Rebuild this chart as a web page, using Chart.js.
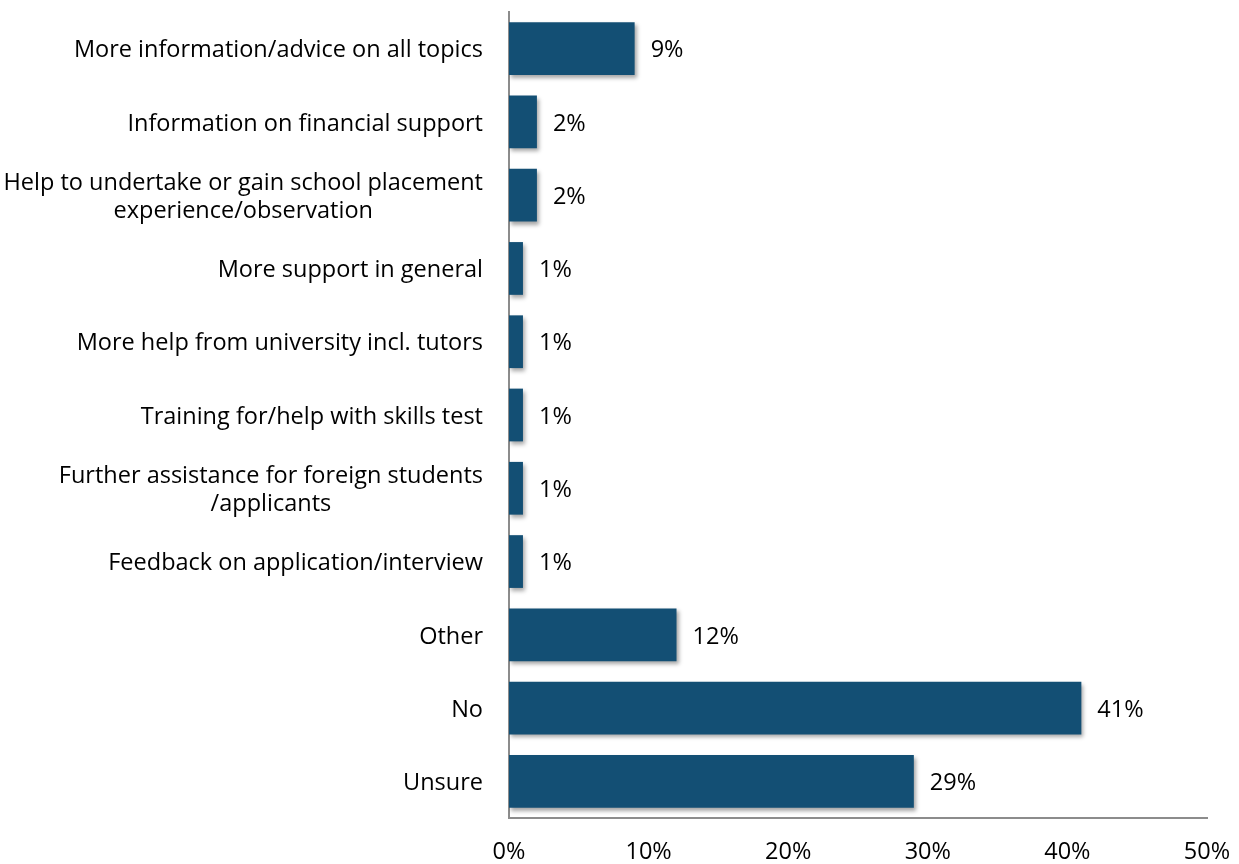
<!DOCTYPE html>
<html>
<head>
<meta charset="utf-8">
<script src="https://cdn.jsdelivr.net/npm/chart.js@4.4.1/dist/chart.umd.min.js"></script>
<style>
  html, body { margin: 0; padding: 0; background: #ffffff; }
  #wrap { width: 1239px; height: 864px; position: relative; }
</style>
</head>
<body>
<div id="wrap"><canvas id="chart" width="1239" height="864"></canvas></div>
<script>
const categories = [
  ["More information/advice on all topics"],
  ["Information on financial support"],
  ["Help to undertake or gain school placement", "experience/observation"],
  ["More support in general"],
  ["More help from university incl. tutors"],
  ["Training for/help with skills test"],
  ["Further assistance for foreign students", "/applicants"],
  ["Feedback on application/interview"],
  ["Other"],
  ["No"],
  ["Unsure"]
];
const values = [9, 2, 2, 1, 1, 1, 1, 1, 12, 41, 29];
const tickValues = [0, 10, 20, 30, 40, 50];

const FONT = "'Open Sans', sans-serif";
const FONT_SIZE = 23.5;
const BAR_COLOR = "#134F74";

// Category labels: block right-aligned to the axis, lines centred within the block
const categoryLabels = {
  id: "categoryLabels",
  afterDraw(chart) {
    const ctx = chart.ctx;
    const y = chart.scales.y;
    const rightEdge = chart.chartArea.left - 26;
    ctx.save();
    ctx.font = FONT_SIZE + "px " + FONT;
    ctx.fillStyle = "#000000";
    ctx.textAlign = "center";
    ctx.textBaseline = "middle";
    const lineH = 28;
    categories.forEach((lines, i) => {
      const cy = y.getPixelForValue(i) + 2;
      const w = Math.max(...lines.map(l => ctx.measureText(l).width));
      const cx = rightEdge - w / 2;
      const top = cy - (lines.length - 1) * lineH / 2;
      lines.forEach((l, k) => ctx.fillText(l, cx, top + k * lineH));
    });
    ctx.restore();
  }
};

// Value labels just past the end of each bar
const valueLabels = {
  id: "valueLabels",
  afterDatasetsDraw(chart) {
    const ctx = chart.ctx;
    const meta = chart.getDatasetMeta(0);
    ctx.save();
    ctx.font = FONT_SIZE + "px " + FONT;
    ctx.fillStyle = "#000000";
    ctx.textAlign = "left";
    ctx.textBaseline = "middle";
    meta.data.forEach((bar, i) => {
      ctx.fillText(values[i] + "%", bar.x + 16, bar.y + 2);
    });
    ctx.restore();
  }
};

// Soft drop shadow under the bars
const barShadow = {
  id: "barShadow",
  beforeDatasetsDraw(chart) {
    const ctx = chart.ctx;
    ctx.save();
    ctx.shadowColor = "rgba(0,0,0,0.35)";
    ctx.shadowBlur = 4;
    ctx.shadowOffsetX = 2;
    ctx.shadowOffsetY = 3;
  },
  afterDatasetsDraw(chart) {
    chart.ctx.restore();
  }
};

new Chart(document.getElementById("chart"), {
  type: "bar",
  data: {
    labels: categories.map(c => c.join(" ")),
    datasets: [{
      data: values,
      backgroundColor: BAR_COLOR,
      borderWidth: 0,
      categoryPercentage: 1.0,
      barPercentage: 0.72
    }]
  },
  options: {
    indexAxis: "y",
    responsive: false,
    animation: false,
    layout: { padding: { top: 12, right: 32, bottom: 0, left: 0 } },
    plugins: {
      legend: { display: false },
      tooltip: { enabled: false }
    },
    scales: {
      x: {
        min: 0,
        max: 50,
        afterBuildTicks(scale) {
          scale.ticks = tickValues.map(v => ({ value: v }));
        },
        afterFit(scale) {
          scale.height = 46;
          scale.paddingLeft = 0;
          scale.paddingRight = 0;
        },
        grid: { display: false, drawTicks: false },
        border: { display: true, color: "#8c8c8c", width: 2 },
        ticks: {
          padding: 20,
          color: "#000000",
          font: { family: FONT, size: FONT_SIZE },
          callback: v => v + "%",
          maxRotation: 0
        }
      },
      y: {
        afterFit(scale) {
          scale.width = 509;
          scale.paddingTop = 0;
          scale.paddingBottom = 0;
        },
        grid: { display: false, drawTicks: false },
        border: { display: true, color: "#8c8c8c", width: 2 },
        ticks: { display: false }
      }
    }
  },
  plugins: [barShadow, valueLabels, categoryLabels]
});
</script>
</body>
</html>
